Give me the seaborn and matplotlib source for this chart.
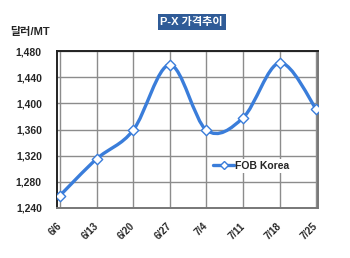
import matplotlib
matplotlib.use("Agg")
import matplotlib.pyplot as plt
from matplotlib.path import Path
from matplotlib.patches import PathPatch
from matplotlib.lines import Line2D
import seaborn as sns
import pandas as pd

weeks = ["6/6", "6/13", "6/20", "6/27", "7/4", "7/11", "7/18", "7/25"]
fob_korea = [1259, 1315, 1359, 1459, 1359, 1378, 1462, 1391]
yticks = [1240, 1280, 1320, 1360, 1400, 1440, 1480]
series_name = "FOB Korea"
title = "P-X 가격추이"
unit = "달러/MT"

blue = "#3a7dda"

sns.set_style("white")
plt.rcParams["font.family"] = ["Liberation Sans", "Noto Sans CJK KR", "DejaVu Sans"]

df = pd.DataFrame({"pos": range(len(weeks)), "week": weeks, "price": fob_korea})

fig = plt.figure(figsize=(3.5, 2.58), dpi=100)
ax = fig.add_axes([0.163, 0.194, 0.746, 0.608])

# smoothed line like Excel (Catmull-Rom as cubic bezier)
pts = list(zip(df["pos"], df["price"]))
verts = [pts[0]]
codes = [Path.MOVETO]
for i in range(len(pts) - 1):
    p0 = pts[i - 1] if i > 0 else pts[i]
    p1 = pts[i]
    p2 = pts[i + 1]
    p3 = pts[i + 2] if i + 2 < len(pts) else pts[i + 1]
    c1 = (p1[0] + (p2[0] - p0[0]) / 6, p1[1] + (p2[1] - p0[1]) / 6)
    c2 = (p2[0] - (p3[0] - p1[0]) / 6, p2[1] - (p3[1] - p1[1]) / 6)
    verts += [c1, c2, p2]
    codes += [Path.CURVE4] * 3
ax.add_patch(PathPatch(Path(verts, codes), facecolor="none", edgecolor=blue,
                       lw=2.4, capstyle="round", joinstyle="round", zorder=3))

sns.scatterplot(data=df, x="pos", y="price", marker="D", s=28, color="white",
                edgecolor=blue, linewidth=1.0, zorder=4, ax=ax, legend=False)

ax.set_xlim(-0.08, 7.05)
ax.set_ylim(1240, 1480)
ax.set_xticks(df["pos"])
ax.set_xticklabels(weeks, rotation=45, ha="right", va="center",
                   rotation_mode="anchor", fontsize=7, fontweight="bold")
ax.set_yticks(yticks)
ax.set_yticklabels([f"{v:,}" for v in yticks], fontsize=7.5, fontweight="bold")
ax.tick_params(axis="y", length=0, pad=11)
ax.tick_params(axis="x", length=0, pad=12)
ax.set_xlabel("")
ax.set_ylabel("")
ax.grid(True, color="#8c8c8c", lw=1.0)
ax.set_axisbelow(True)
for side in ["left", "top"]:
    ax.spines[side].set_color("#222222")
    ax.spines[side].set_linewidth(1.4)
for side in ["right", "bottom"]:
    ax.spines[side].set_color("#777777")
    ax.spines[side].set_linewidth(1.4)

handle = Line2D([], [], color=blue, lw=2.4, marker="D", markersize=4.5,
                markerfacecolor="white", markeredgecolor=blue)
leg = ax.legend([handle], [series_name], loc="upper left",
                bbox_to_anchor=(0.57, 0.345), frameon=True, framealpha=1,
                edgecolor="none", handlelength=2.0, handletextpad=0.1,
                borderpad=0.2, prop={"weight": "bold", "size": 7.5})

fig.text(0.548, 0.915, title, ha="center", va="center", color="white",
         fontsize=8, fontweight="bold",
         bbox=dict(boxstyle="square,pad=0.25", facecolor="#2f5b97", edgecolor="none"))
fig.text(0.028, 0.875, unit, ha="left", va="center", fontsize=8, fontweight="bold")

fig.savefig("out.png", dpi=100)
